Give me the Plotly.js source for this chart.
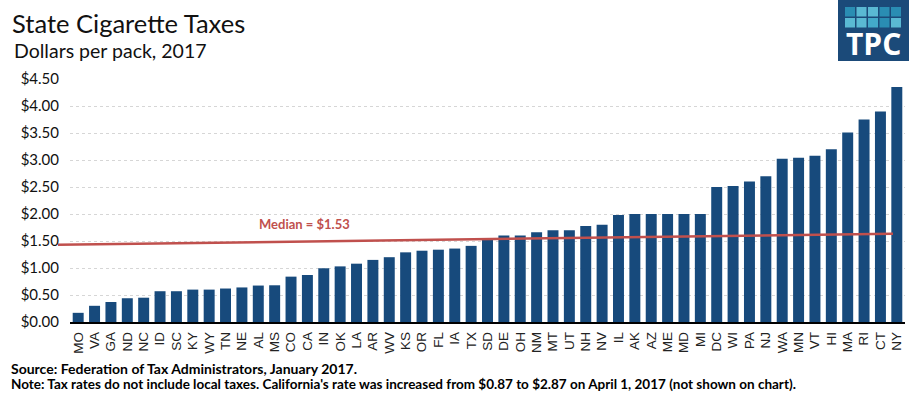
<!DOCTYPE html>
<html>
<head>
<meta charset="utf-8">
<script src="https://cdn.plot.ly/plotly-3.0.1.min.js"></script>
<style>html,body{margin:0;padding:0;background:#fff;}#chart{width:909px;height:401px;}</style>
</head>
<body>
<div id="chart"></div>
<script>
const states = ["MO","VA","GA","ND","NC","ID","SC","KY","WY","TN","NE","AL","MS","CO","CA","IN","OK","LA","AR","WV","KS","OR","FL","IA","TX","SD","DE","OH","NM","MT","UT","NH","NV","IL","AK","AZ","ME","MD","MI","DC","WI","PA","NJ","WA","MN","VT","HI","MA","RI","CT","NY"];
const taxRates = [0.17,0.30,0.37,0.44,0.45,0.57,0.57,0.60,0.60,0.62,0.64,0.675,0.68,0.84,0.87,0.995,1.03,1.08,1.15,1.20,1.29,1.32,1.339,1.36,1.41,1.53,1.60,1.60,1.66,1.70,1.70,1.78,1.80,1.98,2.00,2.00,2.00,2.00,2.00,2.50,2.52,2.60,2.70,3.025,3.04,3.08,3.20,3.51,3.75,3.90,4.35];
const medianValue = 1.53;
const medianLineEnds = [1.43, 1.635];   // the drawn median line is slightly tilted in the source
const yTicks = [0,0.5,1,1.5,2,2.5,3,3.5,4,4.5];

const W = 909, H = 401, L = 70, R = 4, T = 79, B = 79;
const pw = W - L - R, ph = H - T - B;
const px = x => (x - L) / pw;
const py = y => (H - B - y) / ph;

const shapes = [];
// median line
shapes.push({type:'line', xref:'paper', yref:'y', x0:px(58), x1:px(893),
  y0:medianLineEnds[0], y1:medianLineEnds[1], line:{color:'#c0504d', width:2.5}});
// TPC logo
shapes.push({type:'rect', xref:'paper', yref:'paper', x0:px(838), x1:px(912), y0:py(61), y1:py(-2),
  fillcolor:'#1b4a79', line:{width:0}, layer:'above'});
const sqColors = [['#2a8db3','#5ab9d3','#5ab9d3','#2a8db3','#2a8db3'],
                  ['#5ab9d3','#5ab9d3','#43a9c9','#2a8db3','#5ab9d3']];
for (let r = 0; r < 2; r++) {
  for (let c = 0; c < 5; c++) {
    const x0 = 845 + c * 11.5, y0 = 7 + r * 11;
    shapes.push({type:'rect', xref:'paper', yref:'paper', x0:px(x0), x1:px(x0 + 10), y0:py(y0 + 9.5), y1:py(y0),
      fillcolor:sqColors[r][c], line:{width:0}, layer:'above'});
  }
}

const annotations = [
  {text:'Dollars per pack, 2017', xref:'paper', yref:'paper', x:px(12), y:py(50), xanchor:'left', yanchor:'middle',
   showarrow:false, font:{family:'Lato, sans-serif', size:19.5, color:'#111'}},
  {text:'<b>TPC</b>', xref:'paper', yref:'paper', x:px(873), y:py(43), xanchor:'center', yanchor:'middle',
   showarrow:false, font:{family:'Open Sans, sans-serif', size:30, color:'#ffffff'}},
  {text:'<b>Median = $' + medianValue.toFixed(2) + '</b>', xref:'paper', yref:'paper', x:px(304), y:py(224),
   xanchor:'center', yanchor:'middle', showarrow:false, font:{family:'Lato, sans-serif', size:13, color:'#c0504d'}},
  {text:'<b>Source: Federation of Tax Administrators, January 2017.</b>', xref:'paper', yref:'paper', x:px(9), y:py(368),
   xanchor:'left', yanchor:'middle', showarrow:false, font:{family:'Lato, sans-serif', size:14, color:'#000'}},
  {text:"<b>Note: Tax rates do not include local taxes. California's rate was increased from $0.87 to $2.87 on April 1, 2017 (not shown on chart).</b>",
   xref:'paper', yref:'paper', x:px(9), y:py(384), xanchor:'left', yanchor:'middle', showarrow:false,
   font:{family:'Lato, sans-serif', size:13.5, color:'#000'}}
];

const data = [{
  type:'bar', x:states, y:taxRates, marker:{color:'#174a7c', line:{width:0}},
  hoverinfo:'x+y'
}];

const layout = {
  width:W, height:H, margin:{l:L, r:R, t:T, b:B},
  paper_bgcolor:'#fff', plot_bgcolor:'#fff',
  showlegend:false, bargap:0.33,
  title:{text:'State Cigarette Taxes', x:12 / W, xanchor:'left', xref:'container',
         y:1 - 24 / H, yanchor:'middle', font:{family:'Lato, sans-serif', size:25.5, color:'#111'}},
  xaxis:{type:'category', showgrid:false, showline:true, linecolor:'#000', linewidth:1.5,
         ticks:'', tickangle:-90, ticklabelstandoff:3, tickfont:{family:'Liberation Sans, Arial, sans-serif', size:13.5, color:'#222'},
         range:[-0.5, states.length - 0.5], fixedrange:true},
  yaxis:{range:[0,4.5], tickvals:yTicks, tickformat:'$.2f', showgrid:true, gridcolor:'#d6d6d6', griddash:'dot',
         gridwidth:1, zeroline:false, showline:false, ticks:'', ticklabelstandoff:10,
         tickfont:{family:'Lato, sans-serif', size:15, color:'#111'}, fixedrange:true},
  shapes:shapes, annotations:annotations
};

Plotly.newPlot('chart', data, layout, {displayModeBar:false, staticPlot:true});
</script>
</body>
</html>
